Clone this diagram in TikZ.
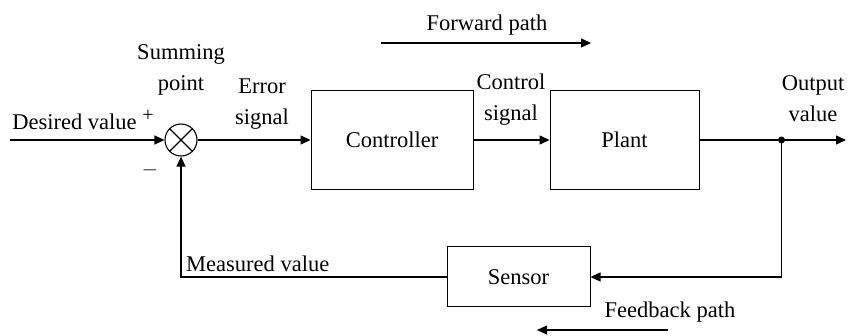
\documentclass[tikz,border=0pt]{standalone}
\usepackage{fontspec}
\setmainfont{Liberation Serif}
\usetikzlibrary{arrows.meta,positioning}

\begin{document}
\begin{tikzpicture}[
  x=1pt,y=1pt,
  node distance=76pt,
  blk/.style={draw,line width=1pt,minimum width=149pt,minimum height=99pt,font=\fontsize{22.5}{28}\selectfont},
  lbl/.style={align=center,inner sep=0pt,font=\fontsize{22.5}{31}\selectfont},
  sig/.style={-{Triangle[length=10pt,width=9pt]},line width=1.2pt}
]
\useasboundingbox (0,0) rectangle (848,-336);
\node[draw,circle,line width=1.1pt,minimum size=32pt,inner sep=0pt] (sum) at (181,-140) {};
\draw[line width=1.1pt] (sum.north west) -- (sum.south east) (sum.north east) -- (sum.south west);
\node[blk,minimum width=162pt,right=113pt of sum] (ctrl) {Controller};
\node[blk,right=of ctrl] (plant) {Plant};
\node[blk,minimum width=143pt,minimum height=60pt] (sensor) at (518.5,-277) {Sensor};
\coordinate (in) at (10,-140);
\coordinate[right=82pt of plant] (tap);
\coordinate (outp) at (846,-140);
\fill (tap) circle (3.5pt);
% signal flow
\draw[sig] (in) -- (sum);
\draw[sig] (sum) -- (ctrl);
\draw[sig] (ctrl) -- (plant);
\draw[sig] (plant) -- (outp);
\draw[sig] (tap) |- (sensor);
\draw[sig] (sensor) -| (sum);
% labels
\node[lbl] (desired) at (74.5,-122) {Desired value};
\node[lbl,font=\fontsize{20}{24}\selectfont] (plus) at (148,-116) {+};
\node[lbl] (minus) at (150,-170) {$-$};
\node[lbl] (sumlbl) at (181,-70) {Summing\\point};
\node[lbl] (err) at (262,-104) {Error\\signal};
\node[lbl] (ctrlsig) at (511,-100) {Control\\signal};
\node[lbl] (output) at (813,-99) {Output\\value};
\node[lbl,anchor=west] (measured) at (186,-263.5) {Measured value};
% path arrows
\coordinate (fwa) at (381,-43);
\coordinate (fwb) at (591,-43);
\node[lbl] (fwd) at (487,-25) {Forward path};
\draw[sig] (fwa) -- (fwb);
\coordinate (fba) at (668,-330);
\coordinate (fbb) at (537,-330);
\node[lbl] (fbk) at (670,-312) {Feedback path};
\draw[sig] (fba) -- (fbb);
\end{tikzpicture}
\end{document}
